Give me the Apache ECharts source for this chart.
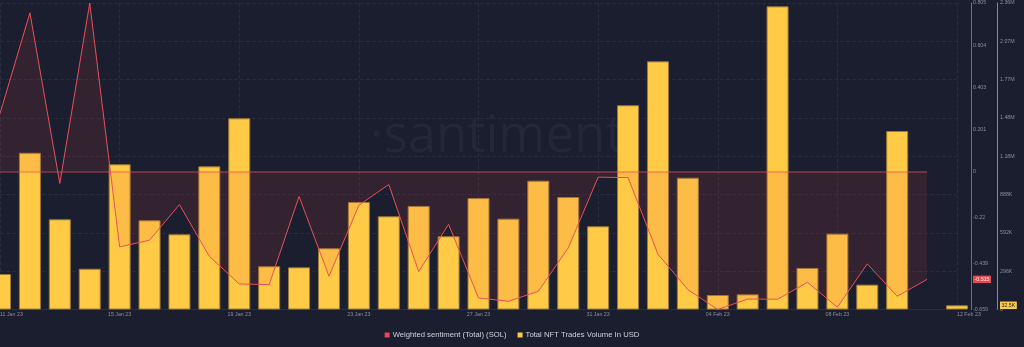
<!DOCTYPE html>
<html>
<head>
<meta charset="utf-8">
<style>
  html, body { margin: 0; padding: 0; background: #1b1e2f; }
  #chart { width: 1024px; height: 347px; }
</style>
<script src="https://cdn.jsdelivr.net/npm/echarts@6/dist/echarts.min.js"></script>
</head>
<body>
<div id="chart"></div>
<script>
const dates = ['11 Jan 23','12 Jan 23','13 Jan 23','14 Jan 23','15 Jan 23','16 Jan 23','17 Jan 23','18 Jan 23','19 Jan 23','20 Jan 23','21 Jan 23','22 Jan 23','23 Jan 23','24 Jan 23','25 Jan 23','26 Jan 23','27 Jan 23','28 Jan 23','29 Jan 23','30 Jan 23','31 Jan 23','01 Feb 23','02 Feb 23','03 Feb 23','04 Feb 23','05 Feb 23','06 Feb 23','07 Feb 23','08 Feb 23','09 Feb 23','10 Feb 23','11 Feb 23','12 Feb 23'];

const volume = [274000,1211000,697000,315000,1122000,689000,581000,1106000,1477000,334000,326000,473000,831000,720000,800000,566000,861000,702000,995000,869000,643000,1578000,1917000,1018000,112000,117000,2342000,321000,586000,192000,1379000,null,32500];

const sentiment = [0.277,0.758,-0.057,0.805,-0.360,-0.328,-0.158,-0.405,-0.537,-0.540,-0.119,-0.500,-0.161,-0.062,-0.478,-0.252,-0.604,-0.620,-0.572,-0.365,-0.027,-0.029,-0.395,-0.564,-0.659,-0.609,-0.610,-0.529,-0.648,-0.441,-0.596,-0.515];

const sentTickValues = [0.805,0.604,0.403,0.201,0,-0.22,-0.439,-0.659];
const sentLast = -0.515;
const volTickValues = [0,296000,592000,888000,1184000,1480000,1776000,2072000,2368000];
const volTickLabels = ['0','296K','592K','888K','1.18M','1.48M','1.77M','2.07M','2.36M'];
const volLast = 32500;
const volLastLabel = '32.5K';

const seriesNames = ['Weighted sentiment (Total) (SOL)', 'Total NFT Trades Volume In USD'];

const volData = volume.map((v, i) => [i, v]);
const sentData = sentiment.map((v, i) => [i, v]);

const FONT = '"Liberation Sans", Arial, sans-serif';
const chart = echarts.init(document.getElementById('chart'), null, { renderer: 'canvas' });

chart.setOption({
  backgroundColor: '#1b1e2f',
  animation: false,
  textStyle: { fontFamily: FONT },
  graphic: [{
    type: 'text',
    left: 370,
    top: 112,
    z: 0,
    silent: true,
    style: {
      text: '\u00B7santiment',
      font: '51px "Open Sans", sans-serif',
      fill: '#232737'
    }
  }],
  legend: {
    bottom: 3,
    left: 'center',
    icon: 'rect',
    itemWidth: 5,
    itemHeight: 5,
    itemGap: 11,
    itemStyle: { borderWidth: 0 },
    textStyle: { color: '#d0d2da', fontSize: 7.7, fontFamily: FONT, padding: [0, 0, 0, -2] },
    data: seriesNames
  },
  grid: { left: 0, right: 67, top: 3, bottom: 37.5, outerBoundsMode: 'none', containLabel: false },
  xAxis: {
    type: 'value',
    min: 0,
    max: dates.length - 1,
    interval: 4,
    axisLine: { show: true, onZero: false, lineStyle: { color: '#2a2e40' } },
    axisTick: { show: false },
    splitLine: { show: true, lineStyle: { color: '#272b3d', type: 'dashed' } },
    axisLabel: {
      color: '#8b8e9b',
      fontSize: 5.3,
      margin: 3,
      alignMinLabel: 'left',
      alignMaxLabel: 'left',
      formatter: v => dates[v] || ''
    }
  },
  yAxis: [
    {
      type: 'value',
      position: 'right',
      offset: 14,
      min: -0.659,
      max: 0.805,
      splitLine: { show: false },
      axisTick: { show: false },
      axisLine: { show: true, onZero: false, lineStyle: { color: '#d9444c', width: 1 } },
      axisLabel: {
        customValues: sentTickValues.concat([sentLast]),
        color: '#8b8e9b',
        fontSize: 5.3,
        margin: 2,
        formatter: v => Math.abs(v - sentLast) < 1e-9 ? '{hl|' + String(sentLast) + '}' : String(v),
        rich: {
          hl: { backgroundColor: '#e8474f', color: '#ffffff', fontSize: 5.3, padding: [1.5, 1.5, 1, 1.5] }
        }
      }
    },
    {
      type: 'value',
      position: 'right',
      offset: 40,
      min: 0,
      max: 2368000,
      interval: 296000,
      splitLine: { show: true, lineStyle: { color: '#272b3d', type: 'dashed' } },
      axisTick: { show: false },
      axisLine: { show: true, onZero: false, lineStyle: { color: '#a8863c', width: 1 } },
      axisLabel: {
        customValues: volTickValues.concat([volLast]),
        color: '#8b8e9b',
        fontSize: 5.3,
        margin: 3,
        formatter: v => {
          if (v === volLast) return '{hl|' + volLastLabel + '}';
          const i = volTickValues.indexOf(v);
          return i >= 0 ? volTickLabels[i] : '';
        },
        rich: {
          hl: { backgroundColor: '#ffcb47', color: '#1b1e2f', fontSize: 5.3, padding: [1.5, 1.5, 1, 1.5] }
        }
      }
    }
  ],
  series: [
    {
      name: seriesNames[1],
      type: 'bar',
      xAxisIndex: 0,
      yAxisIndex: 1,
      barWidth: 22,
      clip: true,
      z: 2,
      itemStyle: { color: '#ffcb47', borderColor: '#9a7a3a', borderWidth: 1 },
      data: volData
    },
    {
      name: seriesNames[0],
      type: 'line',
      xAxisIndex: 0,
      yAxisIndex: 0,
      z: 3,
      showSymbol: false,
      symbol: 'none',
      color: '#e8474f',
      lineStyle: { color: '#ea5058', width: 1 },
      areaStyle: { color: 'rgba(236,77,72,0.17)' },
      markLine: {
        silent: true,
        symbol: 'none',
        label: { show: false },
        lineStyle: { color: 'rgba(236,80,90,0.5)', width: 1.5, type: 'solid' },
        data: [[{ coord: [0, 0] }, { coord: [sentiment.length - 1, 0] }]]
      },
      data: sentData
    }
  ]
});
</script>
</body>
</html>
